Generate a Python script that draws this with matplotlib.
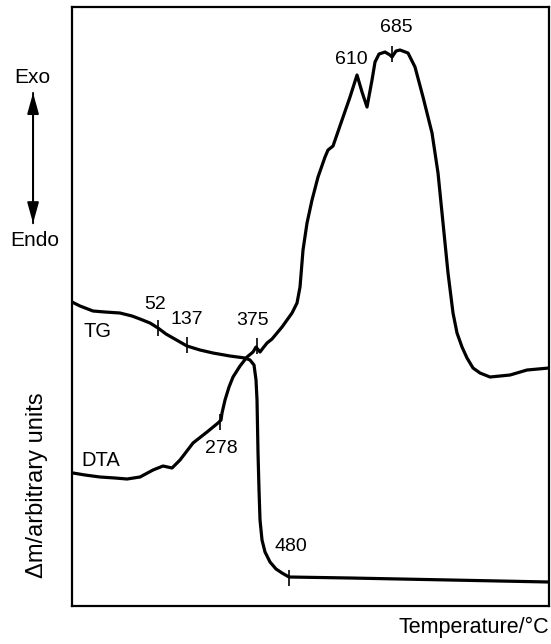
import matplotlib
matplotlib.use("Agg")
import matplotlib.pyplot as plt

# Curvas (unidades arbitrarias, sin escala)
tg_x = [0, 8, 21, 33, 48, 60, 68, 78, 86, 94, 101, 108, 115, 128, 141, 158,
        173, 178, 182, 184, 185, 186, 187, 188, 190, 193, 198, 204, 210, 217,
        278, 378, 477]
tg_y = [304, 300, 295, 294, 293, 290, 287, 283, 278, 272, 268, 264, 260, 256,
        253, 250, 248, 246, 241, 226, 206, 153, 116, 86, 66, 54, 44, 37, 33, 29,
        28, 26, 24]

dta_x = [1, 13, 28, 43, 55, 68, 81, 91, 100, 108, 121, 135, 146, 149, 150, 153,
         157, 161, 168, 175, 181, 184, 188, 191, 195, 200, 205, 210, 215, 220,
         225, 228, 231, 235, 240, 246, 253, 256, 261, 270, 278, 285, 290, 295,
         300, 303, 307, 313, 318, 320, 324, 328, 336, 343, 351, 360, 366, 371,
         376, 381, 385, 390, 395, 401, 408, 418, 438, 455, 477]
dta_y = [133, 131, 129, 128, 127, 129, 136, 140, 138, 146, 163, 174, 183, 186,
         193, 206, 219, 229, 240, 249, 254, 259, 254, 258, 263, 267, 273, 279,
         286, 293, 303, 319, 356, 383, 406, 429, 449, 456, 460, 486, 509, 531,
         514, 499, 526, 544, 552, 554, 551, 549, 555, 556, 553, 539, 509, 473,
         433, 383, 333, 293, 273, 259, 248, 238, 233, 229, 231, 236, 238]

# Temperaturas marcadas sobre las curvas
marca_txt = ["52", "137", "375", "278", "480", "685"]
marca_x = [86, 115, 185, 148, 217, 320]
marca_y = [278, 261, 260, 184, 28, 552]
etiqueta_x = [83, 115, 181, 149, 219, 324]
etiqueta_y = [302, 287, 286, 158, 60, 579]

pico_txt = "610"
pico_pos = (279, 547)

FUENTE = ["Liberation Sans", "DejaVu Sans"]

fig = plt.figure(figsize=(5.51, 6.44), dpi=100)
ax = fig.add_axes([0.1307, 0.059, 0.8657, 0.9301])

ax.plot(tg_x, tg_y, color="black", lw=2.3, solid_capstyle="round",
        solid_joinstyle="round")
ax.plot(dta_x, dta_y, color="black", lw=2.3, solid_capstyle="round",
        solid_joinstyle="round")
ax.plot(marca_x, marca_y, ls="none", marker="|", ms=11, mew=1.2, color="black")

for t, x, y in zip(marca_txt, etiqueta_x, etiqueta_y):
    ax.text(x, y, t, ha="center", va="center", fontsize=14, family=FUENTE)
ax.text(pico_pos[0], pico_pos[1], pico_txt, ha="center", va="center",
        fontsize=14, family=FUENTE)

ax.text(25, 275, "TG", ha="center", va="center", fontsize=14.5, family=FUENTE)
ax.text(29, 146, "DTA", ha="center", va="center", fontsize=14.5, family=FUENTE)

ax.set_xlim(0, 477)
ax.set_ylim(0, 599)
ax.set_xticks([])
ax.set_yticks([])
for s in ax.spines.values():
    s.set_linewidth(1.6)

# Exo / Endo con flecha doble
fig.text(0.058, 0.880, "Exo", ha="center", va="center", fontsize=15, family=FUENTE)
fig.text(0.0635, 0.627, "Endo", ha="center", va="center", fontsize=15, family=FUENTE)
for a, b in [((0.060, 0.649), (0.060, 0.860)), ((0.060, 0.860), (0.060, 0.649))]:
    fig.add_artist(matplotlib.patches.FancyArrowPatch(
        a, b, transform=fig.transFigure,
        arrowstyle="-|>,head_length=0.9,head_width=0.25", mutation_scale=14,
        lw=1.4, color="black"))

fig.text(0.067, 0.247, "\u0394m/arbitrary units", rotation=90, ha="center",
         va="center", fontsize=17, family=FUENTE)
fig.text(0.996, 0.025, "Temperature/\u00b0C", ha="right", va="center",
         fontsize=15.5, family=FUENTE)

fig.savefig("out.png", dpi=100)
